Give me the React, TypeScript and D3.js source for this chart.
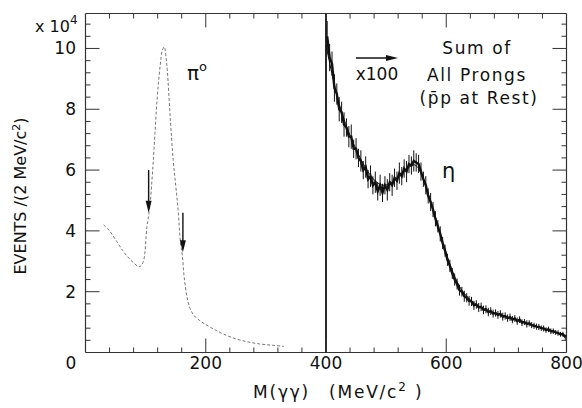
import React from 'react';
import * as d3 from 'd3';

// left panel: gamma-gamma mass, pi0 region (units of 10^4)
const leftMass = [30, 40, 52, 62, 70, 80, 89, 93, 97, 102, 105, 108, 111, 114, 119, 124, 128, 131, 134, 136, 141, 146, 150, 154, 158, 161, 164, 169, 174, 180, 190, 200, 215, 230, 250, 270, 290, 310, 330];
const leftEvents = [4.2, 4.0, 3.65, 3.35, 3.15, 2.95, 2.82, 2.87, 3.05, 4.1, 4.5, 5.0, 5.8, 6.7, 8.3, 9.4, 9.95, 10.05, 9.7, 9.3, 7.7, 6.3, 5.5, 4.7, 3.6, 3.2, 2.5, 1.8, 1.45, 1.23, 1.05, 0.92, 0.75, 0.6, 0.45, 0.35, 0.28, 0.24, 0.2];

// right panel: x100 magnified, eta region
const rightMass = [
  402, 406, 410, 414, 418, 422, 426, 430, 434, 438, 442, 446, 450, 454, 458, 462, 466, 470, 474, 478,
  482, 486, 490, 494, 498, 502, 506, 510, 514, 518, 522, 526, 530, 534, 538, 542, 546, 550, 554, 558,
  562, 566, 570, 574, 578, 582, 586, 590, 594, 598, 602, 606, 610, 614, 618, 622, 626, 630, 634, 638,
  642, 646, 650, 654, 658, 662, 666, 670, 674, 678, 682, 686, 690, 694, 698, 702, 706, 710, 714, 718,
  722, 726, 730, 734, 738, 742, 746, 750, 754, 758, 762, 766, 770, 774, 778, 782, 786, 790, 794, 798,
];
const rightEvents = [
  10.4, 9.7, 9.5, 8.7, 8.5, 8.0, 7.9, 7.5, 7.4, 7.1, 7.1, 6.7, 6.7, 6.4, 6.3, 6.0, 6.1, 5.7, 5.8, 5.5,
  5.6, 5.3, 5.5, 5.25, 5.5, 5.35, 5.6, 5.5, 5.75, 5.65, 5.9, 5.8, 6.05, 5.95, 6.2, 6.15, 6.3, 6.25, 6.2, 5.95,
  5.7, 5.5, 5.15, 4.95, 4.7, 4.4, 4.15, 3.9, 3.6, 3.35, 3.05, 2.85, 2.6, 2.4, 2.25, 2.05, 2.0, 1.85, 1.8, 1.7,
  1.68, 1.55, 1.58, 1.48, 1.5, 1.4, 1.42, 1.33, 1.36, 1.28, 1.3, 1.24, 1.27, 1.18, 1.2, 1.13, 1.16, 1.08, 1.12, 1.03,
  1.08, 0.98, 1.0, 0.94, 0.96, 0.9, 0.88, 0.85, 0.84, 0.8, 0.79, 0.74, 0.76, 0.7, 0.7, 0.66, 0.64, 0.6, 0.6, 0.5,
];
const rightErrors = [
  0.5, 0.45, 0.4, 0.45, 0.35, 0.4, 0.35, 0.4, 0.3, 0.35, 0.4, 0.3, 0.35, 0.3, 0.35, 0.3, 0.35, 0.3, 0.35, 0.3,
  0.35, 0.3, 0.35, 0.3, 0.3, 0.35, 0.3, 0.35, 0.3, 0.3, 0.35, 0.3, 0.3, 0.35, 0.3, 0.3, 0.35, 0.3, 0.3, 0.3,
  0.25, 0.3, 0.25, 0.3, 0.25, 0.25, 0.2, 0.25, 0.2, 0.2, 0.2, 0.2, 0.18, 0.2, 0.18, 0.18, 0.16, 0.18, 0.15, 0.16,
  0.15, 0.15, 0.14, 0.15, 0.14, 0.14, 0.13, 0.14, 0.13, 0.13, 0.12, 0.13, 0.12, 0.13, 0.12, 0.12, 0.12, 0.12, 0.11, 0.12,
  0.11, 0.11, 0.1, 0.12, 0.1, 0.1, 0.1, 0.1, 0.1, 0.09, 0.1, 0.09, 0.09, 0.09, 0.09, 0.08, 0.09, 0.08, 0.08, 0.08,
];

// smooth fit through the magnified spectrum
const fitMass = [400, 420, 440, 460, 480, 500, 520, 540, 550, 560, 580, 600, 620, 640, 660, 680, 700, 720, 740, 760, 780, 800];
const fitEvents = [10.1, 8.2, 7.1, 6.25, 5.6, 5.42, 5.78, 6.15, 6.22, 5.85, 4.6, 3.2, 2.15, 1.7, 1.45, 1.3, 1.17, 1.05, 0.93, 0.8, 0.68, 0.55];

const xLabels = [200, 400, 600, 800];
const yLabels = [2, 4, 6, 8, 10];
const cutMass = [105, 162];
const cutTop = [6.0, 4.6];
const cutBottom = [4.6, 3.3];

const W = 582;
const H = 408;
const ink = '#111';
const frameInk = '#333';
const font = '"DejaVu Sans", sans-serif';

export default function App() {
  const x = d3.scaleLinear().domain([0, 800]).range([85.5, 566.5]);
  const y = d3.scaleLinear().domain([0, 11.15]).range([352.5, 13.5]);

  const leftLine = d3.line<number>()
    .x((_, i) => x(leftMass[i]))
    .y((d) => y(d))
    .curve(d3.curveCatmullRom);

  const fitLine = d3.line<number>()
    .x((_, i) => x(fitMass[i]))
    .y((d) => y(d))
    .curve(d3.curveBasis);

  const dataLine = d3.line<number>()
    .x((_, i) => x(rightMass[i]))
    .y((d) => y(d));

  const xMinor = d3.range(40, 800, 40);
  const yMinor = d3.range(1, 28).map((k) => k * 0.4);

  const x0 = x(0);
  const x1 = x(800);
  const yTop = y(11.15);
  const yBot = y(0);

  const arrowHead = (cx: number, tip: number) => `M${cx - 3},${tip - 12} L${cx + 3},${tip - 12} L${cx},${tip} Z`;

  return (
    <svg width={W} height={H} style={{ position: 'absolute', left: 0, top: 0, background: '#fff' }}>
      {/* frame */}
      <line x1={x0} x2={x1} y1={yTop} y2={yTop} stroke={frameInk} strokeWidth={1.2} />
      <line x1={x0} x2={x1} y1={yBot} y2={yBot} stroke={frameInk} strokeWidth={1.2} />
      <line x1={x0} x2={x0} y1={yTop} y2={yBot} stroke={frameInk} strokeWidth={1.2} />
      <line x1={x1} x2={x1} y1={yTop} y2={yBot} stroke={frameInk} strokeWidth={1.2} />
      <line x1={x(400)} x2={x(400)} y1={yTop} y2={yBot} stroke={ink} strokeWidth={1.8} />

      {/* x ticks, top and bottom, pointing inward */}
      {xMinor.map((v) => {
        const len = v % 200 === 0 ? 14 : 5;
        return (
          <g key={`xt${v}`}>
            <line x1={x(v)} x2={x(v)} y1={yBot} y2={yBot - len} stroke={frameInk} strokeWidth={1} />
            <line x1={x(v)} x2={x(v)} y1={yTop} y2={yTop + len} stroke={frameInk} strokeWidth={1} />
          </g>
        );
      })}

      {/* y ticks, left and right */}
      {yMinor.map((v, k) => {
        const len = (k + 1) % 5 === 0 ? 14 : 5;
        return (
          <g key={`yt${k}`}>
            <line x1={x0} x2={x0 + len} y1={y(v)} y2={y(v)} stroke={frameInk} strokeWidth={1} />
            <line x1={x1} x2={x1 - len} y1={y(v)} y2={y(v)} stroke={frameInk} strokeWidth={1} />
          </g>
        );
      })}

      {/* pi0 curve */}
      <path d={leftLine(leftEvents) || ''} fill="none" stroke="#777" strokeWidth={1} strokeDasharray="3 2" />

      {/* cut arrows */}
      {cutMass.map((m, i) => (
        <g key={`cut${m}`}>
          <line x1={x(m)} x2={x(m)} y1={y(cutTop[i])} y2={y(cutBottom[i]) - 8} stroke={ink} strokeWidth={1.4} />
          <path d={arrowHead(x(m), y(cutBottom[i]))} fill={ink} />
        </g>
      ))}

      {/* eta spectrum x100 */}
      <path d={fitLine(fitEvents) || ''} fill="none" stroke={ink} strokeWidth={1} />
      {rightMass.map((m, i) => (
        <line
          key={`err${m}`}
          x1={x(m)}
          x2={x(m)}
          y1={y(rightEvents[i] + rightErrors[i])}
          y2={y(rightEvents[i] - rightErrors[i])}
          stroke={ink}
          strokeWidth={1}
        />
      ))}
      <path d={dataLine(rightEvents) || ''} fill="none" stroke={ink} strokeWidth={2.4} />

      {/* axis labels */}
      <g fontFamily={font} fontSize={17} fill={ink}>
        {xLabels.map((v) => (
          <text key={`xl${v}`} x={x(v)} y={369} textAnchor="middle">{v}</text>
        ))}
        <text x={71} y={369} textAnchor="middle">0</text>
        {yLabels.map((v) => (
          <text key={`yl${v}`} x={76} y={y(v) + 6} textAnchor="end">{v}</text>
        ))}
        <text x={35} y={32} fontSize={16}>x 10<tspan dy={-8} fontSize={12}>4</tspan></text>
      </g>

      <text
        transform="translate(26,196) rotate(-90)"
        textAnchor="middle"
        fontFamily={font}
        fontSize={16}
        fill={ink}
      >
        EVENTS /(2 MeV/c<tspan dy={-6} fontSize={11}>2</tspan><tspan dy={6}>)</tspan>
      </text>

      <g fontFamily={font} fontSize={17} fill={ink} letterSpacing={1.8}>
        <text x={253} y={398}>M(γγ)</text>
        <text x={329} y={398}>(MeV/c<tspan dy={-7} fontSize={12}>2</tspan><tspan dy={7}> )</tspan></text>
      </g>

      {/* annotations */}
      <g fontFamily={font} fill={ink}>
        <text x={187} y={80} fontSize={20}>π<tspan dy={-9} fontSize={13}>o</tspan></text>
        <text x={442} y={178} fontSize={21}>η</text>
        <g fontSize={17} letterSpacing={1.6} textAnchor="middle">
          <text x={477} y={54}>Sum of</text>
          <text x={477} y={81}>All Prongs</text>
          <text x={479} y={104}>(p̄p at Rest)</text>
        </g>
        <text x={377} y={80} fontSize={17} textAnchor="middle">x100</text>
      </g>
      <line x1={356} x2={390} y1={58} y2={58} stroke={ink} strokeWidth={1.4} />
      <path d="M386,55 L398,58 L386,61 Z" fill={ink} />
    </svg>
  );
}
